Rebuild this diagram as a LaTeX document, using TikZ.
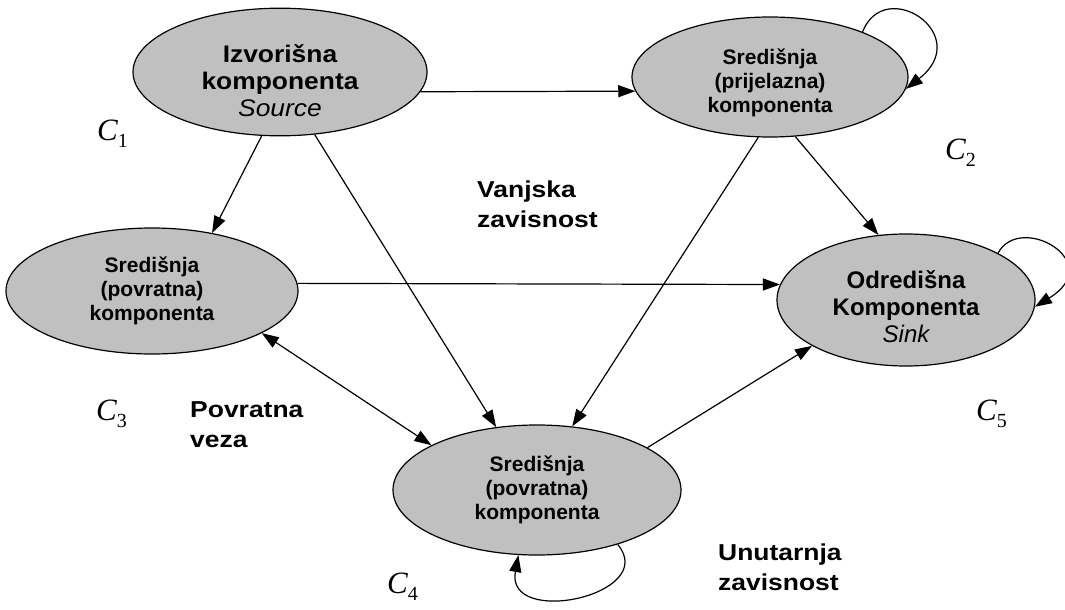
\documentclass[tikz,border=0pt]{standalone}
\usepackage{fontspec}
\setmainfont{Liberation Serif}
\setsansfont{Liberation Sans}
\newfontfamily\srcsans[FakeStretch=1.1]{Liberation Sans}
\newfontfamily\lblsans[FakeStretch=1.15]{Liberation Sans}
\usetikzlibrary{shapes.geometric,arrows.meta}
\definecolor{cfill}{RGB}{192,192,192}
\newcommand\Clab[1]{{\fontsize{31}{31}\selectfont\itshape C}\raisebox{-7pt}{\fontsize{20}{20}\selectfont #1}}
\begin{document}
\begin{tikzpicture}[x=1pt,y=-1pt,
  comp/.style={ellipse,draw,line width=1.2pt,fill=cfill,inner sep=0pt,align=center,
    font=\sffamily\bfseries\fontsize{21}{24}\selectfont},
  bigcomp/.style={comp,font=\srcsans\bfseries\fontsize{24}{27}\selectfont},
  arr/.style={line width=1.2pt,-{Triangle[length=17pt,width=12pt]}},
  dbl/.style={line width=1.2pt,{Triangle[length=17pt,width=12pt]}-{Triangle[length=17pt,width=12pt]}},
  lbl/.style={inner sep=0pt,align=left,anchor=west,font=\lblsans\bfseries\fontsize{23}{30}\selectfont},
  clab/.style={inner sep=0pt,anchor=base west}]
\useasboundingbox (0,0) rectangle (1065,610);
\node[bigcomp,minimum width=294pt,minimum height=126pt] (src) at (280,72)
  {\rule{0pt}{36pt}Izvorišna\\komponenta\\{\mdseries\itshape Source}};
\node[comp,minimum width=276pt,minimum height=120pt] (e2) at (770,77)
  {\rule{0pt}{28pt}Središnja\\(prijelazna)\\komponenta};
\node[comp,minimum width=292pt,minimum height=126pt] (e3) at (152,291)
  {Središnja\\(povratna)\\komponenta};
\node[comp,minimum width=288pt,minimum height=130pt] (e4) at (537,490)
  {Središnja\\(povratna)\\komponenta};
\node[bigcomp,font=\sffamily\bfseries\fontsize{24}{27}\selectfont,minimum width=258pt,minimum height=132pt] (snk) at (906,300)
  {\rule{0pt}{32pt}Odredišna\\Komponenta\\{\mdseries\itshape Sink}};

\draw[arr] (src.-8) -- (e2.186);
\draw[arr] (src.-106) -- (e3.44);
\draw[arr] (src.-61) -- (e4.123);
\draw[arr] (e2.-101) -- (e4.61);
\draw[arr] (e2.-67) -- (snk.113);
\draw[arr] (e3.3) -- (snk.173);
\draw[dbl] (e3.-21) -- (e4.157);
\draw[arr] (e4.21) -- (snk.206);

\draw[arr] (e2.26) .. controls (885,-25) and (975,35) .. (e2.-5);
\draw[arr] (snk.27) .. controls (1020,212) and (1108,262) .. (snk.-3);
\draw[arr] (e4.-34) .. controls (660,595) and (505,628) .. (e4.-106);

\node[lbl] (vz) at (477,204) {Vanjska\\zavisnost};
\node[lbl] (pv) at (190,425) {Povratna\\veza};
\node[lbl] (uz) at (718,567) {Unutarnja\\zavisnost};

\node[clab] (c1) at (97,140) {\Clab{1}};
\node[clab] (c2) at (945,159) {\Clab{2}};
\node[clab] (c3) at (96,420) {\Clab{3}};
\node[clab] (c5) at (976,420) {\Clab{5}};
\node[clab] (c4) at (387,593) {\Clab{4}};
\end{tikzpicture}
\end{document}
